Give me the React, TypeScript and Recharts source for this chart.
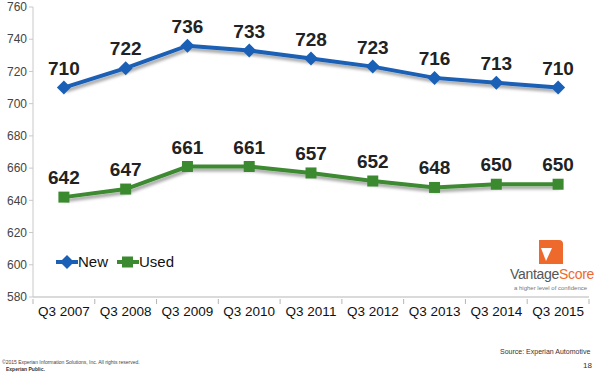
import { LineChart, Line, XAxis, YAxis, LabelList } from 'recharts';

const quarters = ['Q3 2007', 'Q3 2008', 'Q3 2009', 'Q3 2010', 'Q3 2011', 'Q3 2012', 'Q3 2013', 'Q3 2014', 'Q3 2015'];
const newScores = [710, 722, 736, 733, 728, 723, 716, 713, 710];
const usedScores = [642, 647, 661, 661, 657, 652, 648, 650, 650];
const yTicks = [580, 600, 620, 640, 660, 680, 700, 720, 740, 760];

const data = quarters.map((q, i) => ({ quarter: q, New: newScores[i], Used: usedScores[i] }));

const BLUE = '#1a60b6';
const GREEN = '#3c8a30';
const AXIS = '#b5b5b5';
const FONT = '"Liberation Sans", Arial, sans-serif';
const HALF_BAND = 30.9;

type DotProps = { cx?: number; cy?: number; index?: number };

const Diamond = ({ cx, cy, index }: DotProps) => {
  if (cx == null || cy == null) return null;
  const r = 7;
  return <path key={`d${index}`} d={`M${cx},${cy - r}L${cx + r},${cy}L${cx},${cy + r}L${cx - r},${cy}Z`} fill={BLUE} />;
};

const Square = ({ cx, cy, index }: DotProps) => {
  if (cx == null || cy == null) return null;
  const s = 5.5;
  return <rect key={`s${index}`} x={cx - s} y={cy - s} width={s * 2} height={s * 2} fill={GREEN} />;
};

// category labels sit mid-band, tick marks sit on the band edges
const QuarterTick = (props: any) => {
  const { x, y, payload, index } = props;
  const last = index === quarters.length - 1;
  return (
    <g>
      <line x1={x - HALF_BAND} y1={y - 8} x2={x - HALF_BAND} y2={y - 3} stroke={AXIS} />
      {last && <line x1={x + HALF_BAND} y1={y - 8} x2={x + HALF_BAND} y2={y - 3} stroke={AXIS} />}
      <text x={x} y={y + 9} textAnchor="middle" fill="#111" fontSize={13.5} fontFamily={FONT}>
        {payload.value}
      </text>
    </g>
  );
};

const SeriesLegend = () => (
  <div style={{ position: 'absolute', left: 56, top: 253, display: 'flex', alignItems: 'center', fontFamily: FONT, fontSize: 15, color: '#111' }}>
    <svg width={22} height={14}>
      <line x1={0} y1={7} x2={22} y2={7} stroke={BLUE} strokeWidth={4} />
      <path d="M11,0L18,7L11,14L4,7Z" fill={BLUE} />
    </svg>
    <span style={{ marginRight: 9 }}>New</span>
    <svg width={22} height={14}>
      <line x1={0} y1={7} x2={22} y2={7} stroke={GREEN} strokeWidth={4} />
      <rect x={5} y={1.5} width={11} height={11} fill={GREEN} />
    </svg>
    <span>Used</span>
  </div>
);

export default function App() {
  return (
    <div style={{ position: 'absolute', left: 0, top: 0, width: 600, height: 374, background: '#fff', overflow: 'hidden' }}>
      <LineChart width={600} height={374} data={data} margin={{ top: 7, right: 11, left: 0, bottom: 47 }}>
        <defs>
          <filter id="shadow" x="-10%" y="-30%" width="120%" height="180%">
            <feDropShadow dx={1.5} dy={3} stdDeviation={1.8} floodColor="#000" floodOpacity={0.35} />
          </filter>
        </defs>
        <XAxis
          dataKey="quarter"
          stroke={AXIS}
          tickLine={false}
          tickSize={8}
          height={30}
          padding={{ left: HALF_BAND, right: HALF_BAND }}
          tick={<QuarterTick />}
          interval={0}
        />
        <YAxis
          domain={[580, 760]}
          ticks={yTicks}
          width={33}
          stroke="#c8c8c8"
          tickSize={4}
          tick={{ fill: '#444', fontSize: 12, fontFamily: FONT }}
          interval={0}
        />
        <Line
          dataKey="New"
          stroke={BLUE}
          strokeWidth={4}
          dot={<Diamond />}
          activeDot={false}
          filter="url(#shadow)"
          isAnimationActive={false}
        >
          <LabelList dataKey="New" position="top" offset={13} fill="#222" fontSize={19} fontWeight="bold" fontFamily={FONT} />
        </Line>
        <Line
          dataKey="Used"
          stroke={GREEN}
          strokeWidth={4}
          dot={<Square />}
          activeDot={false}
          filter="url(#shadow)"
          isAnimationActive={false}
        >
          <LabelList dataKey="Used" position="top" offset={13} fill="#222" fontSize={19} fontWeight="bold" fontFamily={FONT} />
        </Line>
      </LineChart>

      <SeriesLegend />

      {/* VantageScore logo */}
      <svg width={24} height={24} style={{ position: 'absolute', left: 539, top: 240, display: 'block' }}>
        <path d="M0,0H20Q24,0 24,4V24H0Z" fill="#ee6a2c" />
        <path d="M2,8L13,8L7,21Z" fill="#fff" />
      </svg>
      <div style={{ position: 'absolute', left: 510, top: 266, fontFamily: FONT, fontSize: 14, color: '#555', letterSpacing: -0.3 }}>
        Vantage<span style={{ color: '#ee6a2c' }}>Score</span>
      </div>
      <div style={{ position: 'absolute', left: 514, top: 285, fontFamily: FONT, fontSize: 6, color: '#777' }}>
        a higher level of confidence
      </div>

      {/* footer */}
      <div style={{ position: 'absolute', left: 500, top: 348, fontFamily: FONT, fontSize: 7, color: '#333' }}>
        Source: Experian Automotive
      </div>
      <div style={{ position: 'absolute', left: 583, top: 361, fontFamily: FONT, fontSize: 8, color: '#333' }}>18</div>
      <div style={{ position: 'absolute', left: 2, top: 359, fontFamily: FONT, fontSize: 5, color: '#444' }}>
        ©2015 Experian Information Solutions, Inc. All rights reserved.
      </div>
      <div style={{ position: 'absolute', left: 6, top: 366, fontFamily: FONT, fontSize: 5, fontWeight: 'bold', color: '#333' }}>
        Experian Public.
      </div>
    </div>
  );
}
